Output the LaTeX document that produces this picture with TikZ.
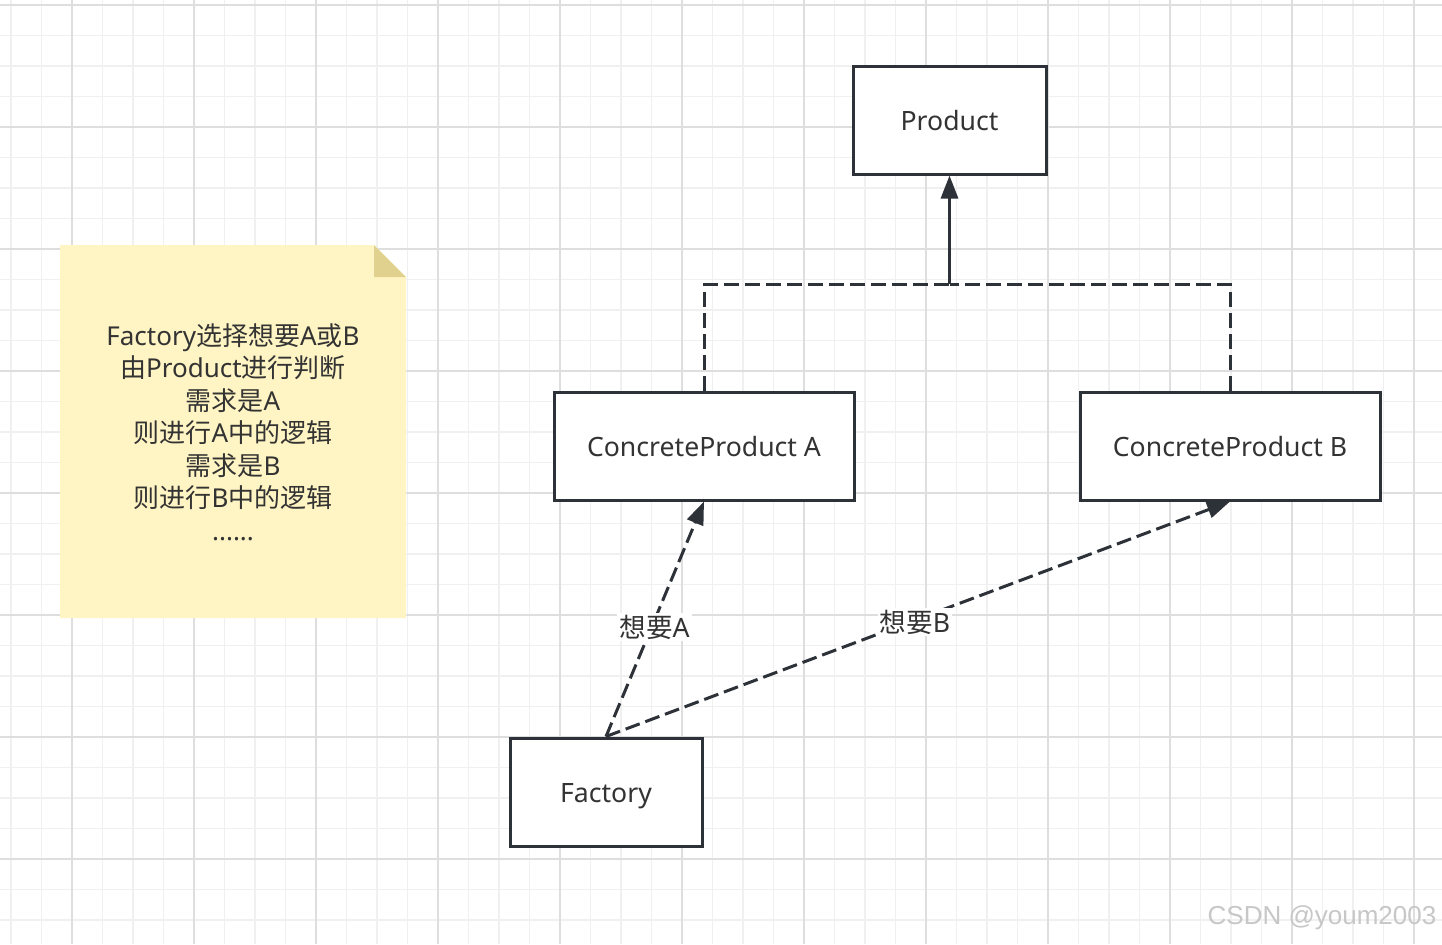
\documentclass[tikz,border=0pt]{standalone}
\usepackage{fontspec}
\setmainfont{Noto Sans}
\newfontfamily\cjkfont{Noto Sans CJK SC}
\newfontfamily\wmfont{Liberation Sans}
\newcommand{\zhtext}[1]{{\cjkfont #1}}
\usetikzlibrary{arrows.meta}

\definecolor{ink}{RGB}{45,50,56}
\definecolor{txt}{RGB}{51,51,51}
\definecolor{gridminor}{RGB}{240,240,240}
\definecolor{gridmajor}{RGB}{222,222,222}
\definecolor{notefill}{RGB}{255,244,195}
\definecolor{notefold}{RGB}{224,209,143}

\begin{document}
\begin{tikzpicture}[x=0.5pt,y=-0.5pt,
  every node/.style={text=txt, font=\fontsize{13}{16.25}\selectfont},
  box/.style={draw=ink, line width=1.5pt, fill=white, inner sep=0pt,
    minimum height=54pt, font=\fontsize{13.3}{16}\selectfont,
    text height=10.1pt, text depth=0pt},
  dashline/.style={draw=ink, line width=1.5pt, dash pattern=on 7.5pt off 3pt},
  tipline/.style={-{Triangle[length=11.5pt,width=8.5pt]}},
  edgelabel/.style={fill=white, inner sep=1pt, font=\fontsize{13.3}{16}\selectfont},
]
% page and background
\useasboundingbox (0,0) rectangle (1442,944);
\fill[white] (0,0) rectangle (1442,944);

% grid
\foreach \i in {0,...,47}
  \draw[gridminor, line width=0.9pt] ({11+30.5*\i},0) -- ({11+30.5*\i},944);
\foreach \i in {0,...,31}
  \draw[gridminor, line width=0.9pt] (0,{5+30.5*\i}) -- (1442,{5+30.5*\i});
\foreach \i in {0,...,11}
  \draw[gridmajor, line width=0.9pt] ({72+122*\i},0) -- ({72+122*\i},944);
\foreach \i in {0,...,7}
  \draw[gridmajor, line width=0.9pt] (0,{5+122*\i}) -- (1442,{5+122*\i});

% sticky note
\fill[notefill] (60,245) -- (374,245) -- (406,277) -- (406,618) -- (60,618) -- cycle;
\fill[notefold] (374,245) -- (374,277) -- (406,277) -- cycle;
\node[align=center, inner sep=0pt] (note) at (233,432) {%
  Factory\zhtext{选择想要}A\zhtext{或}B\\
  \zhtext{由}Product\zhtext{进行判断}\\
  \zhtext{需求是}A\\
  \zhtext{则进行}A\zhtext{中的逻辑}\\
  \zhtext{需求是}B\\
  \zhtext{则进行}B\zhtext{中的逻辑}\\
  ......};

% classes
\node[box, minimum width=96.5pt] (P) at (949.5,120) {Product};
\node[box, minimum width=150pt] (A) at (704,446) {ConcreteProduct A};
\node[box, minimum width=150pt] (B) at (1230,446) {ConcreteProduct B};
\node[box, minimum width=96pt] (F) at (606,792) {Factory};

% realisation edges
\coordinate (j) at (949.5,284);
\draw[dashline] (A.north) |- (j);
\draw[dashline] (B.north) |- (j);
\draw[draw=ink, line width=1.5pt, tipline] (j) -- (P.south);

% dependency edges
\draw[dashline, tipline] (F.north) -- node[pos=0.465, xshift=1.5pt, edgelabel] {\zhtext{想要}A} (A.south);
\draw[dashline, tipline] (F.north) -- node[pos=0.495, yshift=-1pt, edgelabel] {\zhtext{想要}B} (B.south);

% watermark
\node[text=black!22, font=\wmfont\fontsize{13}{13}\selectfont] (wm) at (1322,918) {CSDN @youm2003};
\end{tikzpicture}
\end{document}
